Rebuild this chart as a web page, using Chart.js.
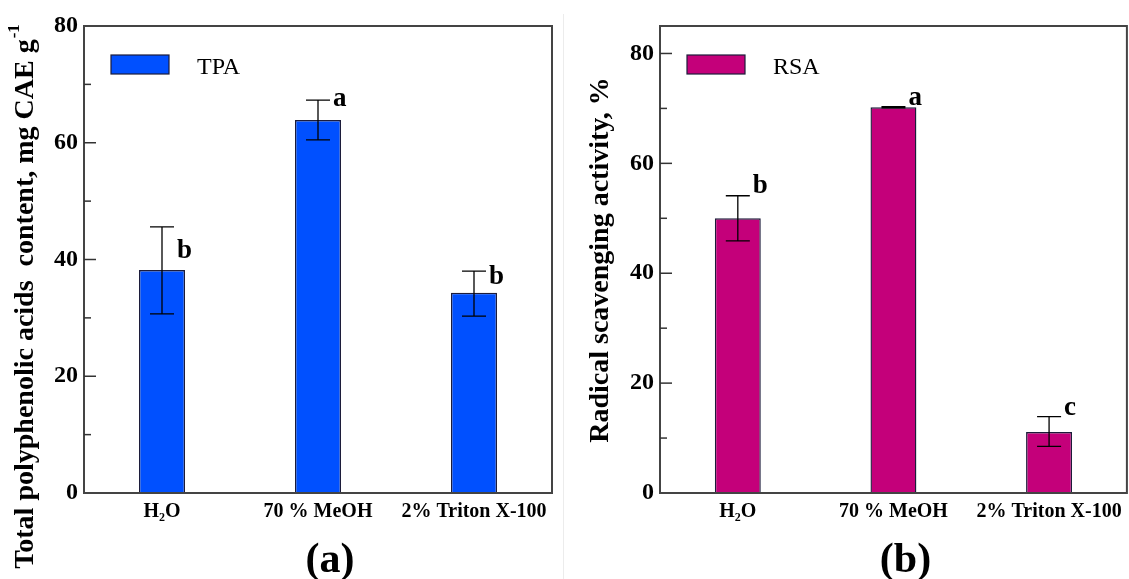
<!DOCTYPE html>
<html>
<head>
<meta charset="utf-8">
<script src="https://cdn.jsdelivr.net/npm/chart.js@4.4.1/dist/chart.umd.min.js"></script>
<style>
      body { margin: 0; background: #fff; }
      #wrap { position: relative; width: 1129px; height: 579px; overflow: hidden; }
      .panel { position: absolute; top: 0; height: 579px; }
      #sep { position: absolute; left: 563px; top: 14px; width: 1px; height: 565px; background: #ececec; }
</style>
</head>
<body>
<div id="wrap">
      <div class="panel" style="left:0; width:565px;"><canvas id="tpa_chart"></canvas></div>
      <div id="sep"></div>
      <div class="panel" style="left:565px; width:564px;"><canvas id="rsa_chart"></canvas></div>
</div>
<script>
// categories shared by both panels
const categories = ['H\u2082O', '70 % MeOH', '2% Triton X-100'];

// (a) total polyphenolic acids, mg CAE g-1
const tpaValues = [38.2, 63.9, 34.3];
const tpaHigh = [45.6, 67.3, 38.0];
const tpaLow = [30.7, 60.5, 30.3];
const tpaLetters = ['b', 'a', 'b'];
const tpaLetterAt = [40.3, 66.3, 35.8];

// (b) radical scavenging activity, %
const rsaValues = [50.0, 70.2, 11.1];
const rsaHigh = [54.1, 70.3, 13.9];
const rsaLow = [45.9, 70.1, 8.5];
const rsaLetters = ['b', 'a', 'c'];
const rsaLetterAt = [54.6, 70.6, 14.2];

const SERIF = '"Liberation Serif", "Times New Roman", serif';

const decorPlugin = {
      id: 'decor',
      afterDraw(chart, args, opts)
      {
            const ctx = chart.ctx;
            const area = chart.chartArea;
            const y = chart.scales.y;
            const meta = chart.getDatasetMeta(0);

            ctx.save();

            // frame
            ctx.strokeStyle = '#444';
            ctx.lineWidth = 2;
            ctx.strokeRect(area.left, area.top, area.right - area.left, area.bottom - area.top);

            // inward ticks
            ctx.lineWidth = 1.5;
            ctx.strokeStyle = '#333';
            y.ticks.forEach(t =>
            {
                  if (t.value <= 0 || t.value >= y.max) return;
                  const py = y.getPixelForValue(t.value);
                  const len = t.value % 20 === 0 ? 12 : 7;
                  ctx.beginPath();
                  ctx.moveTo(area.left, py);
                  ctx.lineTo(area.left + len, py);
                  ctx.stroke();
            });

            // error bars and letters
            ctx.strokeStyle = '#000';
            ctx.lineWidth = 1.3;
            ctx.fillStyle = '#000';
            ctx.font = 'bold 27px ' + SERIF;
            ctx.textAlign = 'left';
            ctx.textBaseline = 'alphabetic';
            meta.data.forEach((bar, i) =>
            {
                  const yh = y.getPixelForValue(opts.high[i]);
                  const yl = y.getPixelForValue(opts.low[i]);
                  ctx.beginPath();
                  ctx.moveTo(bar.x, yl);
                  ctx.lineTo(bar.x, yh);
                  ctx.moveTo(bar.x - 12, yh);
                  ctx.lineTo(bar.x + 12, yh);
                  ctx.moveTo(bar.x - 12, yl);
                  ctx.lineTo(bar.x + 12, yl);
                  ctx.stroke();
                  ctx.fillText(opts.letters[i], bar.x + 15, y.getPixelForValue(opts.letterAt[i]));
            });

            // legend
            const ds = chart.data.datasets[0];
            const lx = area.left + 27;
            const ly = area.top + 29;
            ctx.fillStyle = ds.backgroundColor;
            ctx.fillRect(lx, ly, 58, 19);
            ctx.strokeStyle = '#1c1c3a';
            ctx.lineWidth = 1.2;
            ctx.strokeRect(lx, ly, 58, 19);
            ctx.fillStyle = '#000';
            ctx.font = '24px ' + SERIF;
            ctx.fillText(ds.label, lx + 86, ly + 19);

            // y title (rotated)
            ctx.font = 'bold 28px ' + SERIF;
            const w1 = ctx.measureText(opts.title).width;
            ctx.font = 'bold 17px ' + SERIF;
            const w2 = opts.sup ? ctx.measureText(opts.sup).width : 0;
            ctx.translate(opts.titleX, opts.titleY);
            ctx.rotate(-Math.PI / 2);
            ctx.textBaseline = 'middle';
            const start = -(w1 + w2) / 2;
            ctx.font = 'bold 28px ' + SERIF;
            ctx.fillText(opts.title, start, 0);
            if (opts.sup)
            {
                  ctx.font = 'bold 17px ' + SERIF;
                  ctx.fillText(opts.sup, start + w1 + 1, -11);
            }
            ctx.setTransform(1, 0, 0, 1, 0, 0);

            // panel label
            ctx.font = 'bold 42px ' + SERIF;
            ctx.textAlign = 'center';
            ctx.textBaseline = 'alphabetic';
            ctx.fillText(opts.panel, (area.left + area.right) / 2 + 12, 572);

            ctx.restore();
      }
};

function buildChart(canvasId, setup)
{
      const config = {
            type: 'bar',
            data: {
                  labels: categories,
                  datasets: [{
                        label: setup.label,
                        data: setup.values,
                        backgroundColor: setup.color,
                        borderColor: '#1c1c3a',
                        borderWidth: 1.4,
                        barPercentage: 0.295,
                        categoryPercentage: 1
                  }]
            },
            options: {
                  responsive: false,
                  animation: false,
                  events: [],
                  layout: {
                        padding: { left: 0, top: 26, right: setup.padRight, bottom: 0 }
                  },
                  scales: {
                        x: {
                              grid: { display: false, drawTicks: false },
                              border: { display: false },
                              ticks: {
                                    padding: 7,
                                    color: '#000',
                                    font: { family: SERIF, size: 20, weight: 'bold' }
                              },
                              afterFit: function (scale) { scale.height = 86; }
                        },
                        y: {
                              min: 0,
                              max: setup.max,
                              grid: { display: false, drawTicks: false },
                              border: { display: false },
                              ticks: {
                                    stepSize: 5,
                                    padding: 6,
                                    color: '#000',
                                    font: { family: SERIF, size: 24, weight: 'bold' },
                                    callback: function (v) { return v % 20 === 0 ? v : ''; }
                              },
                              afterFit: function (scale) { scale.width = setup.axisLeft; }
                        }
                  },
                  plugins: {
                        legend: { display: false },
                        tooltip: { enabled: false },
                        decor: {
                              high: setup.high,
                              low: setup.low,
                              letters: setup.letters,
                              letterAt: setup.letterAt,
                              title: setup.title,
                              sup: setup.sup,
                              titleX: setup.titleX,
                              titleY: setup.titleY,
                              panel: setup.panel
                        }
                  }
            },
            plugins: [decorPlugin]
      };

      const canvas = document.getElementById(canvasId);
      canvas.width = setup.width;
      canvas.height = 579;
      return new Chart(canvas, config);
}

buildChart('tpa_chart', {
      label: 'TPA',
      values: tpaValues,
      high: tpaHigh,
      low: tpaLow,
      letters: tpaLetters,
      letterAt: tpaLetterAt,
      color: '#0050ff',
      max: 80,
      width: 565,
      axisLeft: 84,
      padRight: 13,
      title: 'Total polyphenolic acids  content, mg CAE g',
      sup: '-1',
      titleX: 26,
      titleY: 297,
      panel: '(a)'
});

buildChart('rsa_chart', {
      label: 'RSA',
      values: rsaValues,
      high: rsaHigh,
      low: rsaLow,
      letters: rsaLetters,
      letterAt: rsaLetterAt,
      color: '#c4007a',
      max: 85,
      width: 564,
      axisLeft: 95,
      padRight: 2,
      title: 'Radical scavenging activity, %',
      sup: '',
      titleX: 36,
      titleY: 260,
      panel: '(b)'
});
</script>
</body>
</html>
